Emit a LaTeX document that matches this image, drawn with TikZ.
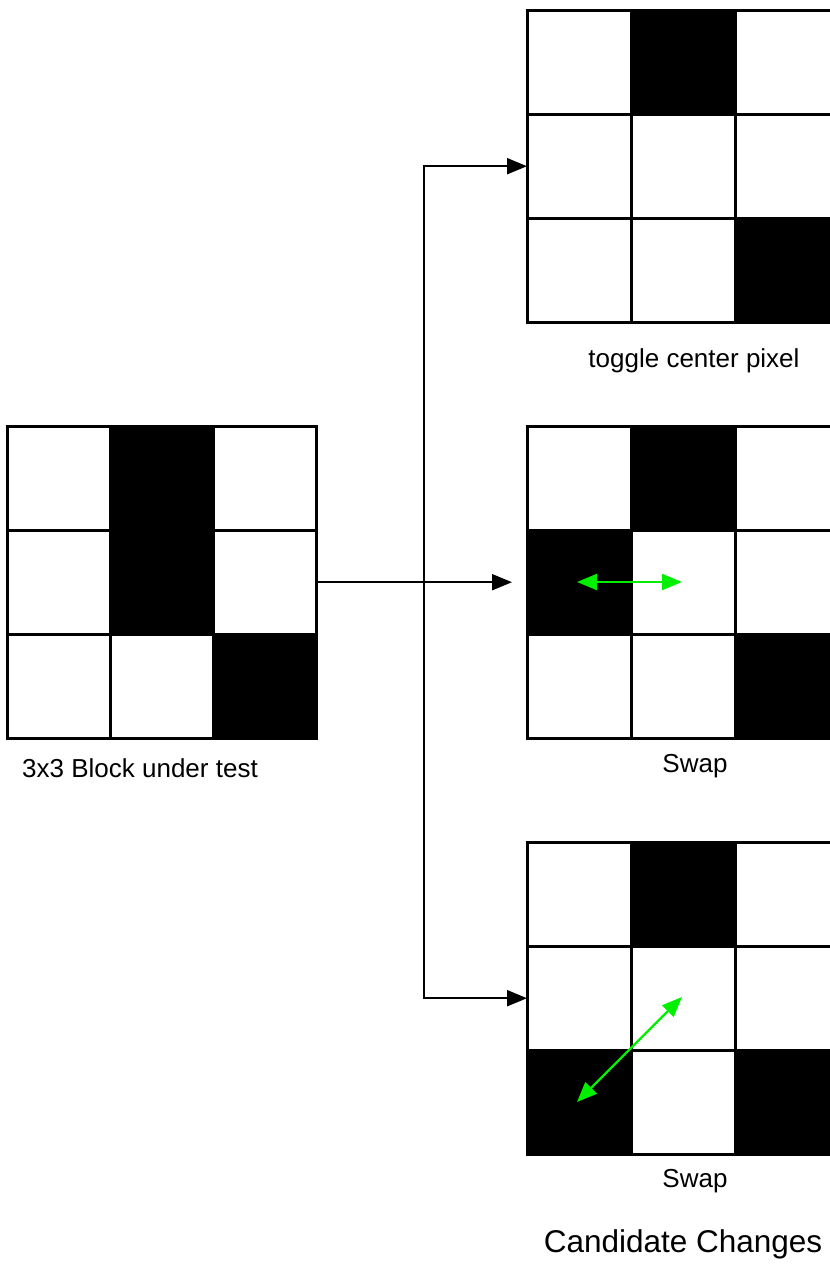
\documentclass[tikz,border=0pt]{standalone}
\usepackage{fontspec}
\setmainfont{Liberation Sans}
\usetikzlibrary{arrows.meta}
\definecolor{swapgreen}{RGB}{0,240,0}
\tikzset{
  cellline/.style={line width=3pt},
  conn/.style={line width=2pt, -{Triangle[length=20pt,width=16pt]}},
  swaparrow/.style={swapgreen, line width=2.2pt,
    {Triangle[length=20pt,width=16pt]}-{Triangle[length=20pt,width=16pt]}},
  lbl/.style={anchor=base, font=\fontsize{26}{30}\selectfont, inner sep=0pt},
  bigl/.style={anchor=base, font=\fontsize{31.5}{36}\selectfont, inner sep=0pt},
  gridbox/.style={minimum height=312pt, inner sep=0pt, anchor=north west}
}
\newcommand\pixgrid[4]{%
  \foreach \r/\c in {#4} \fill[black] ({#1+\c*#3},{#2+\r*104}) rectangle ++(#3,104);
  \foreach \i in {1,2} {
    \draw[cellline] ({#1+\i*#3},#2) -- ++(0,312);
    \draw[cellline] (#1,{#2+\i*104}) -- ++({3*#3},0);
  }
  \draw[cellline] (#1,#2) rectangle ++({3*#3},312);
}
\begin{document}
\begin{tikzpicture}[x=1pt,y=-1pt]
\path[use as bounding box, clip] (0,0) rectangle (830,1264);
\fill[white] (0,0) rectangle (830,1264);

% grid anchors
\node[gridbox, minimum width=310pt] (blk) at (7,426) {};
\node[gridbox, minimum width=312pt] (top) at (527,10) {};
\node[gridbox, minimum width=312pt] (mid) at (527,426) {};
\node[gridbox, minimum width=312pt] (bot) at (527,842) {};

% grids
\pixgrid{7}{426}{103.3}{0/1,1/1,2/2}
\pixgrid{527}{10}{104}{0/1,2/2}
\pixgrid{527}{426}{104}{0/1,1/0,2/2}
\pixgrid{527}{842}{104}{0/1,2/0,2/2}

% connectors
\coordinate (j) at ([xshift=107pt]blk.east);
\draw[conn, shorten >=15pt] (blk.east) -- (mid.west);
\draw[conn] (j) |- (top.west);
\draw[conn] (j) |- (bot.west);

% swap arrows
\coordinate (s1a) at (577,582);
\coordinate (s1b) at (682,582);
\draw[swaparrow] (s1a) -- (s1b);
\coordinate (s2a) at (577,1102);
\coordinate (s2b) at (682,997);
\draw[swaparrow] (s2a) -- (s2b);

% labels
\node[lbl] (t1) at (694,367) {toggle center pixel};
\node[lbl] (t2) at (140,777) {3x3 Block under test};
\node[lbl] (t3) at (695,772) {Swap};
\node[lbl] (t4) at (695,1187) {Swap};
\node[bigl] (t5) at (683,1252) {Candidate Changes};
\end{tikzpicture}
\end{document}
